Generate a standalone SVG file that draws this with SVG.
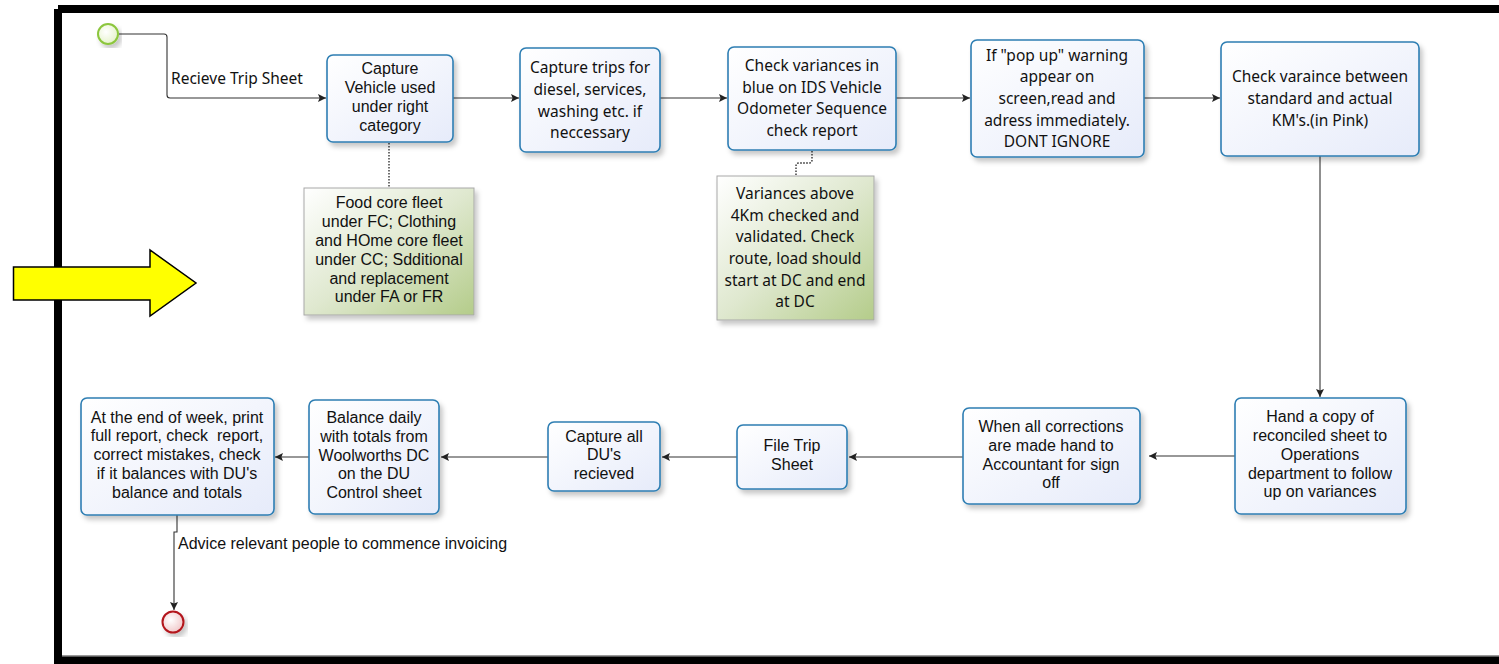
<svg xmlns="http://www.w3.org/2000/svg" width="1499" height="664" viewBox="0 0 1499 664">
<defs>
<linearGradient id="gBox" x1="0" y1="0" x2="1" y2="1">
<stop offset="0" stop-color="#ffffff"/><stop offset="1" stop-color="#e6ebfa"/>
</linearGradient>
<linearGradient id="gNote" x1="0" y1="0" x2="1" y2="1">
<stop offset="0" stop-color="#ffffff"/><stop offset="0.5" stop-color="#dfe8cf"/><stop offset="1" stop-color="#b4cc8a"/>
</linearGradient>
<radialGradient id="gStart" cx="0.4" cy="0.4" r="0.7">
<stop offset="0" stop-color="#ffffff"/><stop offset="1" stop-color="#e2f1c4"/>
</radialGradient>
<radialGradient id="gEnd" cx="0.4" cy="0.4" r="0.7">
<stop offset="0" stop-color="#ffffff"/><stop offset="1" stop-color="#efc2c4"/>
</radialGradient>
<filter id="sh" x="-10%" y="-10%" width="130%" height="130%">
<feDropShadow dx="3" dy="4" stdDeviation="2.5" flood-color="#000" flood-opacity="0.22"/>
</filter>
<marker id="ah" viewBox="0 0 10 10" refX="10" refY="5" markerWidth="8" markerHeight="8" markerUnits="userSpaceOnUse" orient="auto">
<path d="M0,0 L10,5 L0,10 L2,5 z" fill="#222"/>
</marker>
</defs>
<style>
.box{fill:url(#gBox);stroke:#2e7eb3;stroke-width:1.6;filter:url(#sh)}
.note{fill:url(#gNote);stroke:#a8a8a8;stroke-width:1;filter:url(#sh)}
.t{font-family:"Liberation Sans",Arial,sans-serif;font-size:16px;fill:#111;text-anchor:middle}
.s{font-family:"Noto Sans","Open Sans",sans-serif;font-size:15.5px;fill:#111;text-anchor:middle}
.c{fill:none;stroke:#333;stroke-width:1.1}
.d{fill:none;stroke:#222;stroke-width:1.3;stroke-dasharray:1.5,1.5}
</style>
<rect width="1499" height="664" fill="#fff"/>
<g id="frame">
<path d="M58,9 H1499 M58,9 V660 H1499" fill="none" stroke="#000" stroke-width="8"/>
<path d="M62,656 H1499" stroke="#777" stroke-width="1.5"/>
</g>
<g id="bigArrow">
<path d="M13.5,267 H150 V250 L196,283 L150,316 V300 H13.5 Z" fill="#ffff00" stroke="#000" stroke-width="1.5"/>
</g>
<g id="connectors">
<path class="c" d="M119,34 H164 Q167,34 167,37 V95 Q167,98 170,98 H326" marker-end="url(#ah)"/>
<path class="c" d="M453,98 H519" marker-end="url(#ah)"/>
<path class="c" d="M660,98 H727" marker-end="url(#ah)"/>
<path class="c" d="M896,98 H970" marker-end="url(#ah)"/>
<path class="c" d="M1144,98 H1220" marker-end="url(#ah)"/>
<path class="c" d="M1320,156 V397" marker-end="url(#ah)"/>
<path class="c" d="M1235,456 H1149" marker-end="url(#ah)"/>
<path class="c" d="M963,457 H849" marker-end="url(#ah)"/>
<path class="c" d="M737,457 H662" marker-end="url(#ah)"/>
<path class="c" d="M548,457 H441" marker-end="url(#ah)"/>
<path class="c" d="M309,457 H275" marker-end="url(#ah)"/>
<path class="c" d="M177,515 V532 H174 V610" marker-end="url(#ah)"/>
<path class="d" d="M389,143 V188"/>
<path class="d" d="M812,151 V160 Q812,163 809,163 H799 Q796,163 796,166 V176"/>
<text x="171" y="84" class="s" style="text-anchor:start">Recieve Trip Sheet</text>
<text x="178" y="549" class="t" style="text-anchor:start">Advice relevant people to commence invoicing</text>
</g>
<g id="start"><circle cx="108" cy="34" r="10" fill="url(#gStart)" stroke="#8cc63e" stroke-width="2" filter="url(#sh)"/></g>
<g id="end"><circle cx="173" cy="622" r="10.5" fill="url(#gEnd)" stroke="#b3141b" stroke-width="2" filter="url(#sh)"/></g>
<g id="n1"><rect class="box" x="327" y="55" width="126" height="87" rx="6"/>
<text class="t" x="390"><tspan x="390" y="74">Capture</tspan><tspan x="390" y="93">Vehicle used</tspan><tspan x="390" y="112">under right</tspan><tspan x="390" y="131">category</tspan></text></g>
<g id="n2"><rect class="box" x="520" y="48" width="140" height="104" rx="6"/>
<text class="s" x="590"><tspan x="590" y="73">Capture trips for</tspan><tspan x="590" y="95">diesel, services,</tspan><tspan x="590" y="117">washing etc. if</tspan><tspan x="590" y="138">neccessary</tspan></text></g>
<g id="n3"><rect class="box" x="728" y="47" width="168" height="103" rx="6"/>
<text class="s" x="812"><tspan x="812" y="71">Check variances in</tspan><tspan x="812" y="93">blue on IDS Vehicle</tspan><tspan x="812" y="114">Odometer Sequence</tspan><tspan x="812" y="136">check report</tspan></text></g>
<g id="n4"><rect class="box" x="971" y="40" width="173" height="117" rx="6"/>
<text class="s" x="1057"><tspan x="1057" y="61">If "pop up" warning</tspan><tspan x="1057" y="82">appear on</tspan><tspan x="1057" y="104">screen,read and</tspan><tspan x="1057" y="126">adress immediately.</tspan><tspan x="1057" y="147">DONT IGNORE</tspan></text></g>
<g id="n5"><rect class="box" x="1221" y="42" width="198" height="114" rx="6"/>
<text class="s" x="1320"><tspan x="1320" y="82">Check varaince between</tspan><tspan x="1320" y="104">standard and actual</tspan><tspan x="1320" y="126">KM's.(in Pink)</tspan></text></g>
<g id="note1"><rect class="note" x="304" y="188" width="170" height="127"/>
<text class="t" x="389"><tspan x="389" y="208">Food core fleet</tspan><tspan x="389" y="227">under FC; Clothing</tspan><tspan x="389" y="246">and HOme core fleet</tspan><tspan x="389" y="265">under CC; Sdditional</tspan><tspan x="389" y="284">and replacement</tspan><tspan x="389" y="302">under FA or FR</tspan></text></g>
<g id="note2"><rect class="note" x="717" y="176" width="157" height="144"/>
<text class="s" x="795"><tspan x="795" y="199">Variances above</tspan><tspan x="795" y="221">4Km checked and</tspan><tspan x="795" y="242">validated. Check</tspan><tspan x="795" y="264">route, load should</tspan><tspan x="795" y="286">start at DC and end</tspan><tspan x="795" y="307">at DC</tspan></text></g>
<g id="n6"><rect class="box" x="1235" y="398" width="171" height="116" rx="6"/>
<text class="t" x="1320"><tspan x="1320" y="422">Hand a copy of</tspan><tspan x="1320" y="441">reconciled sheet to</tspan><tspan x="1320" y="460">Operations</tspan><tspan x="1320" y="479">department to follow</tspan><tspan x="1320" y="497">up on variances</tspan></text></g>
<g id="n7"><rect class="box" x="963" y="408" width="177" height="96" rx="6"/>
<text class="t" x="1051"><tspan x="1051" y="432">When all corrections</tspan><tspan x="1051" y="451">are made hand to</tspan><tspan x="1051" y="470">Accountant for sign</tspan><tspan x="1051" y="488">off</tspan></text></g>
<g id="n8"><rect class="box" x="737" y="425" width="110" height="64" rx="6"/>
<text class="t" x="792"><tspan x="792" y="451">File Trip</tspan><tspan x="792" y="470">Sheet</tspan></text></g>
<g id="n9"><rect class="box" x="548" y="422" width="112" height="69" rx="6"/>
<text class="t" x="604"><tspan x="604" y="442">Capture all</tspan><tspan x="604" y="460">DU's</tspan><tspan x="604" y="479">recieved</tspan></text></g>
<g id="n10"><rect class="box" x="309" y="400" width="130" height="114" rx="6"/>
<text class="t" x="374"><tspan x="374" y="423">Balance daily</tspan><tspan x="374" y="442">with totals from</tspan><tspan x="374" y="461">Woolworths DC</tspan><tspan x="374" y="479">on the DU</tspan><tspan x="374" y="498">Control sheet</tspan></text></g>
<g id="n11"><rect class="box" x="81" y="398" width="193" height="117" rx="6"/>
<text class="t" x="177"><tspan x="177" y="423">At the end of week, print</tspan><tspan x="177" y="441" style="white-space:pre">full report, check  report,</tspan><tspan x="177" y="460">correct mistakes, check</tspan><tspan x="177" y="479">if it balances with DU's</tspan><tspan x="177" y="498">balance and totals</tspan></text></g>
</svg>
